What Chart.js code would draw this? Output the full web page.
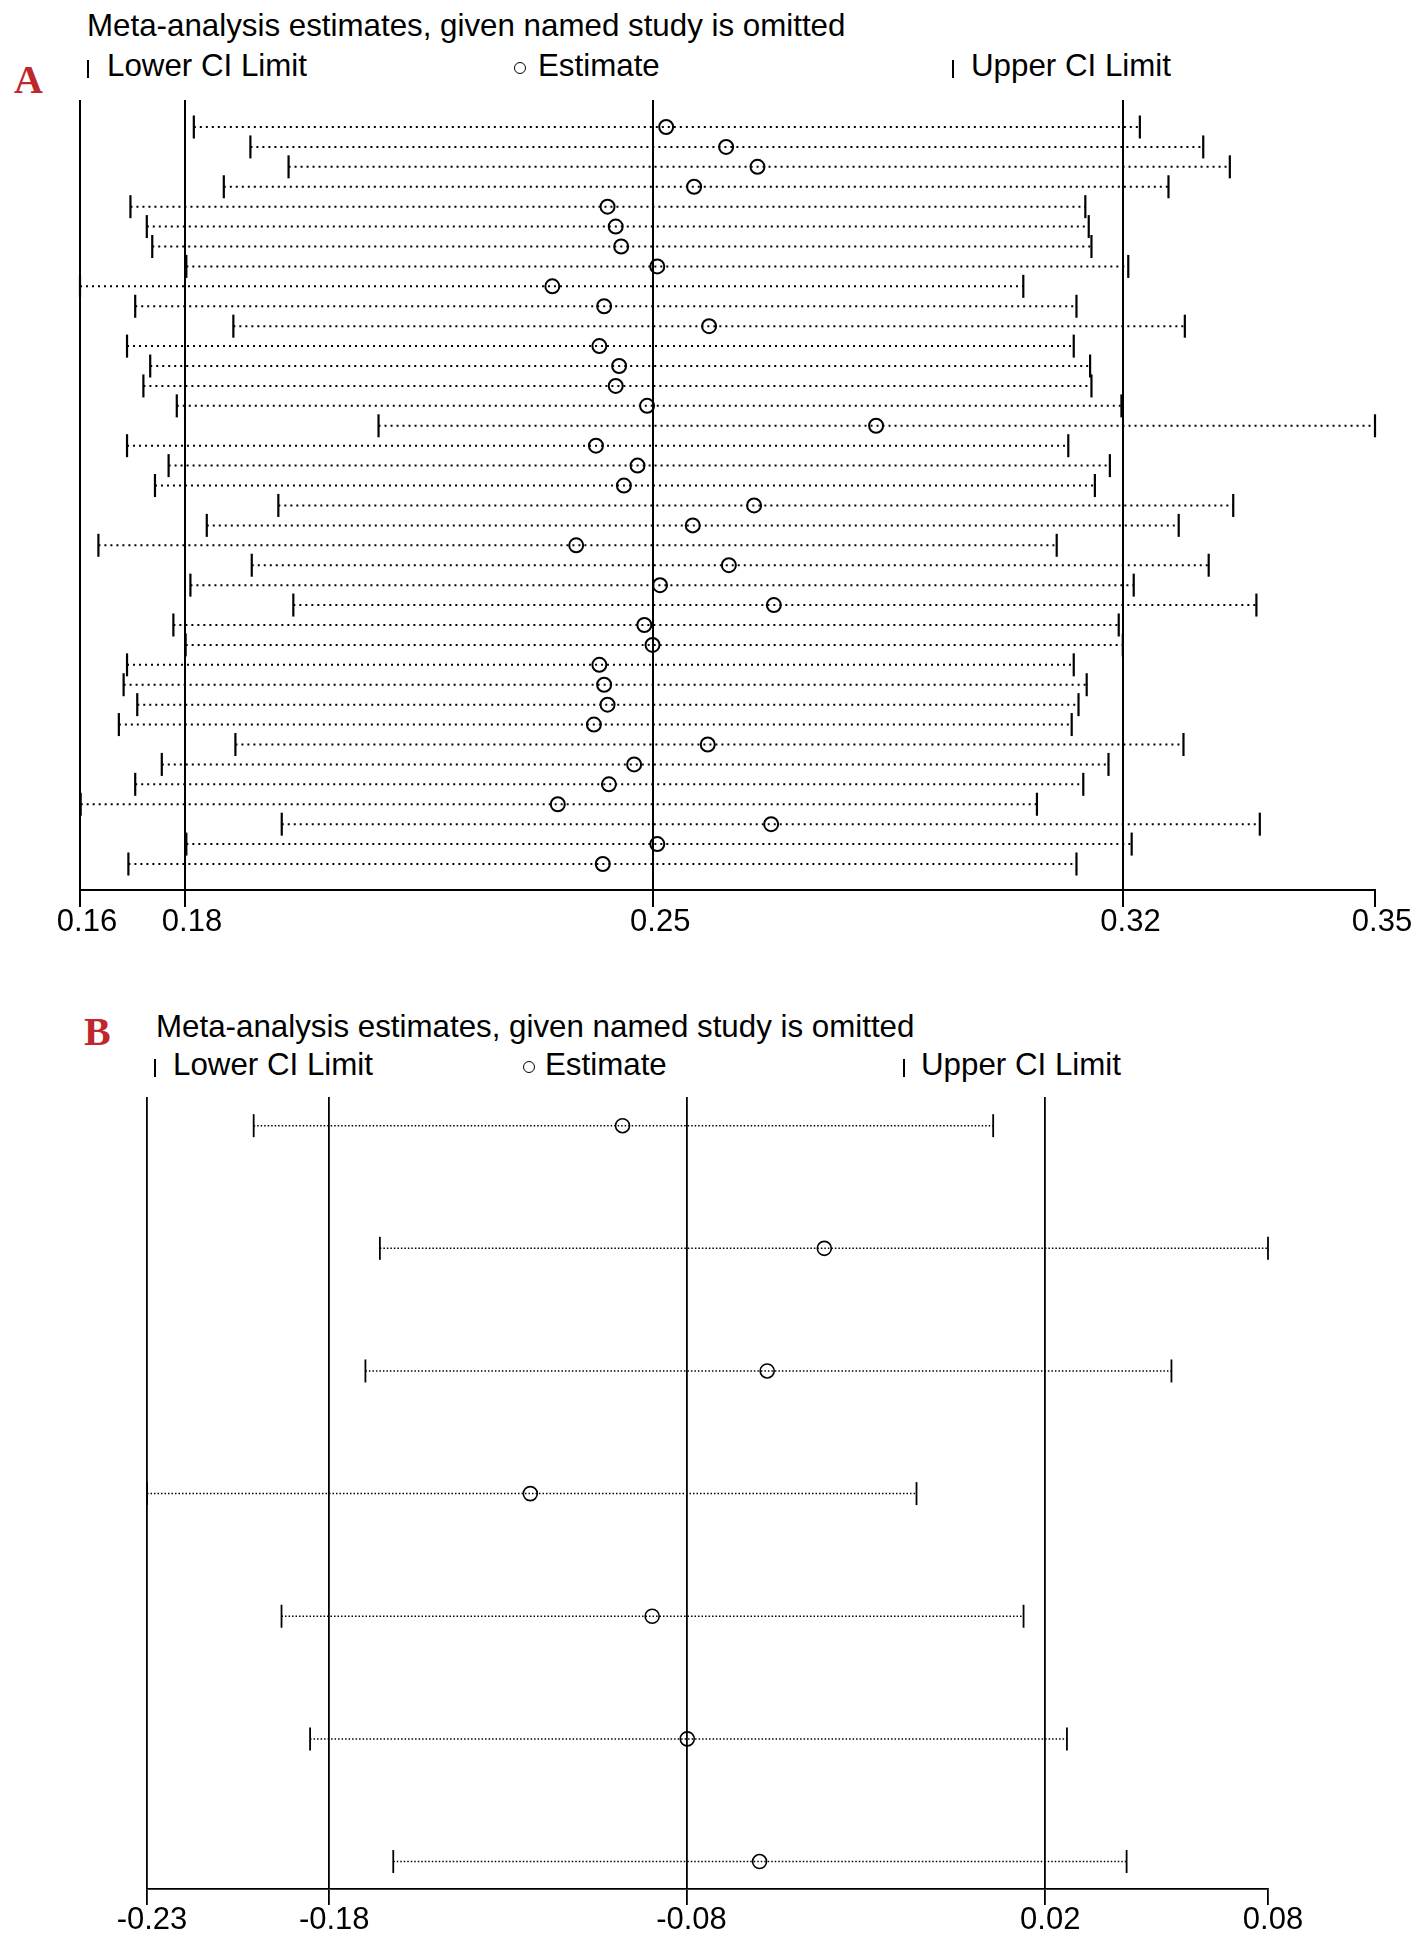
<!DOCTYPE html>
<html>
<head>
<meta charset="utf-8">
<script src="https://cdn.jsdelivr.net/npm/chart.js@4.4.0/dist/chart.umd.min.js"></script>
<style>
  body { margin: 0; width: 1418px; height: 1943px; background: #fff; position: relative; overflow: hidden;
         font-family: "Liberation Sans", Arial, sans-serif; }
  canvas { position: absolute; left: 0; }
  .txt { position: absolute; font-size: 31.3px; line-height: 31px; color: #000; white-space: nowrap; }
  .panel { position: absolute; font-family: "Liberation Serif", "Times New Roman", serif; font-weight: bold;
           font-size: 40px; line-height: 40px; color: #c0272d; }
  .bar { position: absolute; width: 2px; height: 18px; background: #000; }
  .ring { position: absolute; width: 10px; height: 10px; border: 1.5px solid #000; border-radius: 50%; }
</style>
</head>
<body>

<!-- panel A header -->
<div class="panel" style="left:14px; top:60px;">A</div>
<div class="txt" style="left:87px; top:10px;">Meta-analysis estimates, given named study is omitted</div>
<div class="bar" style="left:87px; top:60px;"></div>
<div class="txt" style="left:107px; top:50px;">Lower CI Limit</div>
<div class="ring" style="left:514px; top:62px;"></div>
<div class="txt" style="left:538px; top:50px;">Estimate</div>
<div class="bar" style="left:952px; top:60px;"></div>
<div class="txt" style="left:971px; top:50px;">Upper CI Limit</div>
<canvas id="chartA" width="1418" height="950" style="top:0px; width:1418px; height:950px;"></canvas>

<!-- panel B header -->
<div class="panel" style="left:84px; top:1012px;">B</div>
<div class="txt" style="left:156px; top:1011px;">Meta-analysis estimates, given named study is omitted</div>
<div class="bar" style="left:154px; top:1059px;"></div>
<div class="txt" style="left:173px; top:1049px;">Lower CI Limit</div>
<div class="ring" style="left:523px; top:1061px;"></div>
<div class="txt" style="left:545px; top:1049px;">Estimate</div>
<div class="bar" style="left:903px; top:1059px;"></div>
<div class="txt" style="left:921px; top:1049px;">Upper CI Limit</div>
<canvas id="chartB" width="1418" height="953" style="top:990px; width:1418px; height:953px;"></canvas>

<script>
// ---- Panel A: 38 studies, each one omitted in turn ----
const lowerA = [0.1811, 0.1894, 0.1950, 0.1855, 0.1718, 0.1742, 0.1750, 0.1800, 0.1644, 0.1725,
                0.1869, 0.1713, 0.1747, 0.1737, 0.1786, 0.2082, 0.1713, 0.1774, 0.1754, 0.1935,
                0.1830, 0.1671, 0.1896, 0.1806, 0.1957, 0.1781, 0.1799, 0.1713, 0.1708, 0.1728,
                0.1701, 0.1872, 0.1764, 0.1725, 0.1645, 0.1940, 0.1800, 0.1715];
const estA   = [0.2504, 0.2592, 0.2638, 0.2545, 0.2418, 0.2430, 0.2438, 0.2491, 0.2337, 0.2413,
                0.2567, 0.2406, 0.2435, 0.2430, 0.2476, 0.2812, 0.2401, 0.2462, 0.2442, 0.2633,
                0.2543, 0.2372, 0.2596, 0.2495, 0.2662, 0.2472, 0.2484, 0.2406, 0.2413, 0.2418,
                0.2398, 0.2565, 0.2457, 0.2420, 0.2345, 0.2658, 0.2491, 0.2411];
const upperA = [0.3199, 0.3292, 0.3331, 0.3241, 0.3119, 0.3124, 0.3128, 0.3182, 0.3028, 0.3106,
                0.3265, 0.3102, 0.3126, 0.3128, 0.3172, 0.3544, 0.3094, 0.3155, 0.3133, 0.3336,
                0.3256, 0.3077, 0.3300, 0.3190, 0.3370, 0.3168, 0.3174, 0.3102, 0.3121, 0.3109,
                0.3099, 0.3263, 0.3153, 0.3116, 0.3048, 0.3375, 0.3187, 0.3106];
// min, pooled lower CI, pooled estimate, pooled upper CI, max (shown with 2 decimals)
const ticksA = [0.1644, 0.1798, 0.2485, 0.3175, 0.3544];

// ---- Panel B: 7 studies ----
const lowerB = [-0.2005, -0.1656, -0.1696, -0.2300, -0.1928, -0.1849, -0.1619];
const estB   = [-0.0985, -0.0427, -0.0585, -0.1240, -0.0903, -0.0806, -0.0606];
const upperB = [ 0.0040,  0.0800,  0.0533, -0.0172,  0.0124,  0.0244,  0.0409];
const ticksB = [-0.23, -0.1796, -0.0808, 0.0184, 0.08];

function makeChart(id, lower, est, upper, ticks, opt) {
    const rows = est.map((_, i) => i + 1);
    // one dotted segment per study, broken by NaN points
    const seg = rows.flatMap((r, i) => [{x: lower[i], y: r}, {x: upper[i], y: r}, {x: NaN, y: NaN}]);
    const pts = arr => rows.map((r, i) => ({x: arr[i], y: r}));
    const cap = {
        pointStyle: 'line', pointRotation: 90, pointRadius: opt.cap,
        pointBorderColor: '#000', pointBorderWidth: opt.capW, showLine: false, clip: false
    };
    const last = ticks.length - 1;

    return new Chart(document.getElementById(id), {
        type: 'scatter',
        data: {
            datasets: [
                { data: seg, showLine: true, borderColor: '#000', borderWidth: opt.dotW, borderDash: opt.dash,
                  pointRadius: 0, spanGaps: false, clip: false, order: 3 },
                { ...cap, data: pts(lower), order: 1 },
                { ...cap, data: pts(upper), order: 1 },
                { data: pts(est), pointStyle: 'circle', pointRadius: 7, pointBorderWidth: opt.ringW,
                  pointBorderColor: '#000', pointBackgroundColor: 'rgba(0,0,0,0)', clip: false, order: 0 }
            ]
        },
        options: {
            responsive: false,
            animation: false,
            events: [],
            layout: { padding: { left: opt.left, right: opt.right, top: opt.top, bottom: 0 }, autoPadding: false },
            plugins: { legend: { display: false }, tooltip: { enabled: false } },
            scales: {
                x: {
                    type: 'linear',
                    min: ticks[0],
                    max: ticks[last],
                    afterBuildTicks: s => { s.ticks = ticks.map(v => ({ value: v })); },
                    afterFit: s => { s.height = opt.axisH; },
                    // no reference line at the max, only its tick mark
                    grid: { color: c => c.index === last ? 'rgba(0,0,0,0)' : '#000',
                            lineWidth: opt.gridW, tickLength: opt.tickLen,
                            tickColor: '#000', tickWidth: opt.gridW },
                    border: { display: true, color: '#000', width: opt.gridW },
                    ticks: {
                        autoSkip: false, maxRotation: 0, padding: 0, labelOffset: opt.labelOffset,
                        color: '#000', font: { family: 'Liberation Sans', size: 31, lineHeight: 1 },
                        callback: v => v.toFixed(2)
                    }
                },
                y: { type: 'linear', reverse: true, min: opt.yMin, max: opt.yMax, display: false }
            }
        }
    });
}

makeChart('chartA', lowerA, estA, upperA, ticksA, {
    left: 80, right: 43, top: 100, axisH: 60, tickLen: 17, labelOffset: 7,
    yMin: -0.355, yMax: 39.305, cap: 11.5, capW: 2.2, ringW: 2,
    dotW: 2, dash: [2, 4], gridW: 2
});

makeChart('chartB', lowerB, estB, upperB, ticksB, {
    left: 147, right: 150, top: 107, axisH: 54, tickLen: 16, labelOffset: 5,
    yMin: 0.766, yMax: 7.224, cap: 11.5, capW: 1.8, ringW: 1.6,
    dotW: 1.5, dash: [1.5, 2], gridW: 1.8
});
</script>
</body>
</html>
